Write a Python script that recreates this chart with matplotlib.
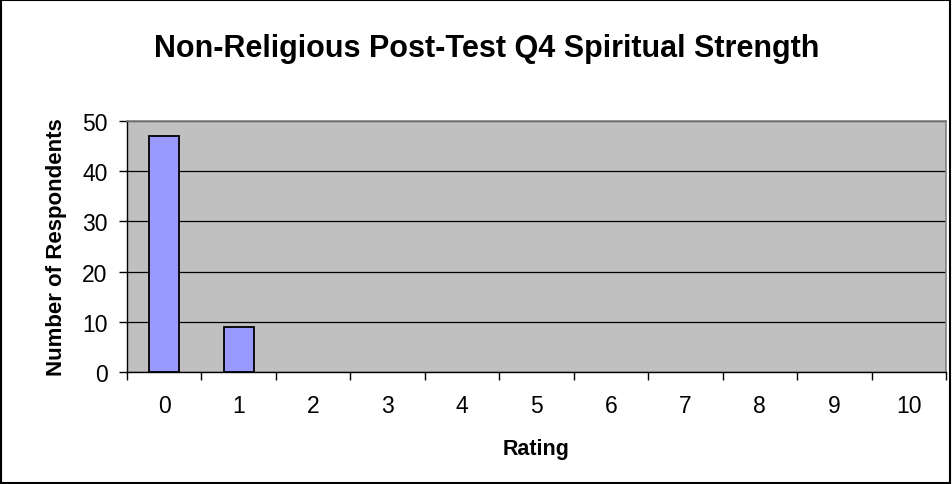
import numpy as np
import matplotlib.pyplot as plt
from matplotlib.patches import Rectangle

# Datos del grafico
ratings = ["0", "1", "2", "3", "4", "5", "6", "7", "8", "9", "10"]
respondents = [47, 9, 0, 0, 0, 0, 0, 0, 0, 0, 0]
y_ticks = [0, 10, 20, 30, 40, 50]

plt.rcParams['font.family'] = ['Liberation Sans', 'DejaVu Sans']

fig = plt.figure(figsize=(9.52, 4.85), dpi=100)
ax = fig.add_axes([127 / 952, 1 - 373 / 485, (946 - 127) / 952, (373 - 122) / 485])

x = np.arange(len(ratings))
# Excel no dibuja borde en barras de valor 0
widths = [1.3 if v > 0 else 0 for v in respondents]
ax.bar(x, respondents, width=0.4, color="#9999FF", edgecolor="black", linewidth=widths, zorder=3)

ax.set_facecolor("#C0C0C0")
ax.set_xlim(-0.5, len(ratings) - 0.5)
ax.set_ylim(0, 50)
ax.set_yticks(y_ticks)
ax.yaxis.grid(True, color="black", linewidth=0.9, zorder=1)
ax.set_axisbelow(True)

# ticks en los bordes de las categorias, etiquetas centradas
ax.set_xticks(np.arange(-0.5, len(ratings), 1.0))
ax.set_xticklabels([])
ax.set_xticks(x, minor=True)
ax.set_xticklabels(ratings, minor=True)
ax.tick_params(axis="x", which="minor", length=0, pad=16, labelsize=16.5)
ax.tick_params(axis="x", which="major", length=6, width=1, direction="out")
ax.tick_params(axis="y", length=6, width=1, direction="out", labelsize=16.5, pad=8)

for s in ["top", "right"]:
    ax.spines[s].set_color("#808080")
    ax.spines[s].set_linewidth(1.2)
for s in ["left", "bottom"]:
    ax.spines[s].set_color("black")
    ax.spines[s].set_linewidth(1)

ax.set_xlabel("Rating", fontsize=15.5, fontweight="bold", labelpad=15)
ax.set_ylabel("Number of Respondents", fontsize=16, fontweight="bold", labelpad=11)

fig.text(487 / 952, 1 - 57 / 485, "Non-Religious Post-Test Q4 Spiritual Strength",
         ha="center", va="baseline", fontsize=22, fontweight="bold")

# Borde exterior
fig.patches.append(Rectangle((0.001, 0.002), 0.997, 0.996, transform=fig.transFigure,
                             fill=False, edgecolor="black", linewidth=1.5))

fig.savefig("out.png", dpi=100)
